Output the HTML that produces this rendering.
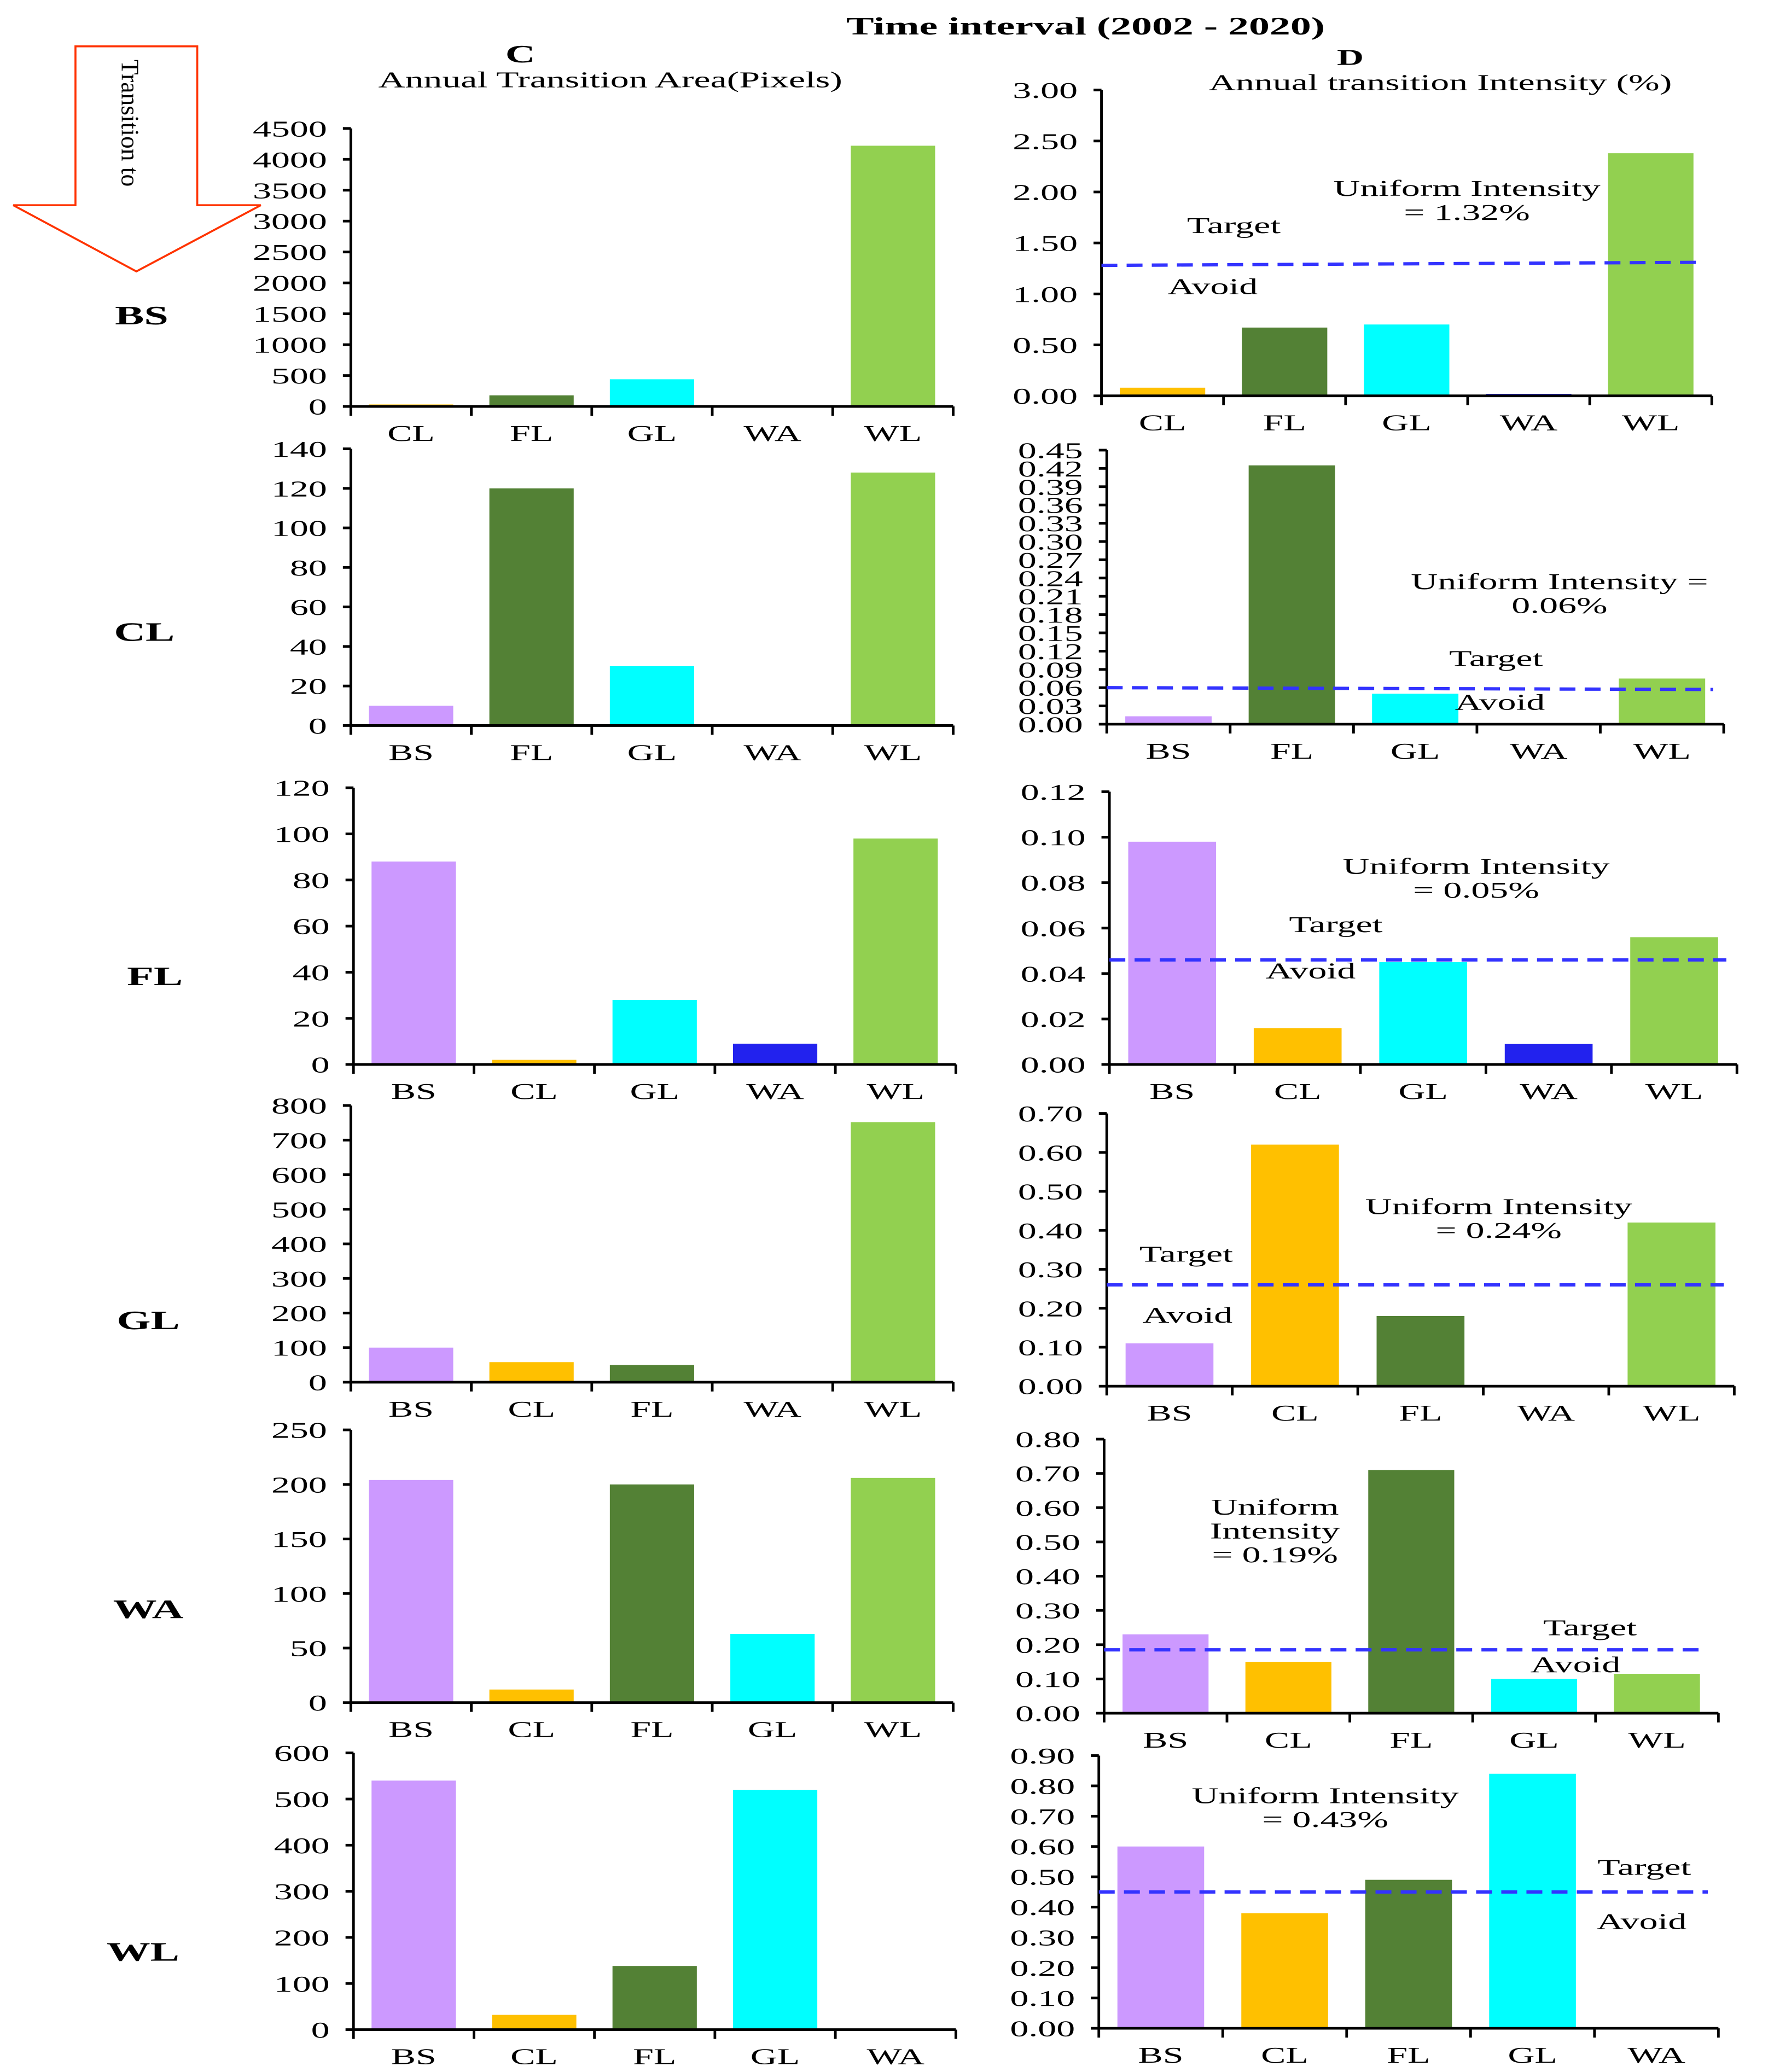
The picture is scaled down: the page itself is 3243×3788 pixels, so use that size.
<!DOCTYPE html>
<html><head><meta charset="utf-8"><style>
html,body{margin:0;padding:0;background:#fff}
svg{display:block}
text{font-family:"Liberation Serif",serif;fill:#000}
</style></head><body>
<svg id="fig" width="3243" height="3788" viewBox="0 0 1340 1565" preserveAspectRatio="none" xmlns="http://www.w3.org/2000/svg">
<text transform="translate(820,26) scale(1.65,1)" font-size="19" font-weight="bold" text-anchor="middle">Time interval (2002 - 2020)</text>
<text transform="translate(393,47) scale(1.65,1)" font-size="19" font-weight="bold" text-anchor="middle">C</text>
<text transform="translate(461,66) scale(1.65,1)" font-size="17" text-anchor="middle">Annual Transition  Area(Pixels)</text>
<text transform="translate(1020,49) scale(1.65,1)" font-size="17" font-weight="bold" text-anchor="middle">D</text>
<text transform="translate(1088,68) scale(1.65,1)" font-size="17" text-anchor="middle">Annual transition  Intensity (%)</text>
<polygon points="57,35 149,35 149,155 197,155 103,205 10,155 57,155" fill="none" stroke="#ff3300" stroke-width="1.5"/>
<text transform="translate(92,45) rotate(90)" font-size="19" textLength="96" lengthAdjust="spacingAndGlyphs">Transition to</text>
<g id="charts"></g>
</svg>
<script>
const colors = {BS:'#cc99ff', CL:'#ffc000', FL:'#538135', GL:'#00ffff', WA:'#2222ee', WL:'#92d050'};
const rowLabels = ['BS','CL','FL','GL','WA','WL'];
const rowCats = [
  ['CL','FL','GL','WA','WL'],
  ['BS','FL','GL','WA','WL'],
  ['BS','CL','GL','WA','WL'],
  ['BS','CL','FL','WA','WL'],
  ['BS','CL','FL','GL','WL'],
  ['BS','CL','FL','GL','WA']
];
const areaValues = [
  [5,180,440,0,4220],
  [10,120,30,0,128],
  [88,2,28,9,98],
  [100,58,50,0,752],
  [204,12,200,63,206],
  [540,32,138,520,0]
];
const areaMax = [4500,140,120,800,250,600];
const areaStep = [500,20,20,100,50,100];
const intensityValues = [
  [0.08,0.67,0.70,0.01,2.38],
  [0.013,0.425,0.05,0,0.075],
  [0.098,0.016,0.045,0.009,0.056],
  [0.11,0.62,0.18,0,0.42],
  [0.23,0.15,0.71,0.10,0.115],
  [0.60,0.38,0.49,0.84,0]
];
const intensityMax = [3.0,0.45,0.12,0.7,0.8,0.9];
const intensityStep = [0.5,0.03,0.02,0.1,0.1,0.1];
const uniformStart = [1.28,0.06,0.046,0.26,0.185,0.45];
const uniformEnd = [1.31,0.057,0.046,0.26,0.185,0.45];
const uniformText = [
  ['Uniform Intensity','= 1.32%'],
  ['Uniform Intensity =','0.06%'],
  ['Uniform Intensity','= 0.05%'],
  ['Uniform Intensity','= 0.24%'],
  ['Uniform','Intensity','= 0.19%'],
  ['Uniform Intensity','= 0.43%']
];

// layout (not data)
const cLayout = [[265,720,97,307],[265,720,339,548],[267,722,595,804],[265,720,835,1044],[265,720,1080,1286],[267,722,1324,1533]];
const dLayout = [[832,1293,68,299],[836,1302,340,547],[838,1312,598,804],[836,1310,841,1047],[834,1298,1087,1294],[830,1298,1326,1532]];
const rowLabelPos = [[107,245],[109,484],[117,744],[112,1004],[112,1222],[108,1481]];
const uniPos = [[1108,148],[1178,445],[1115,660],[1132,917],[963,1144],[1001,1362]];
const targetPos = [[932,176,916,222],[1130,503,1133,536],[1009,704,990,739],[896,953,897,999],[1201,1235,1190,1263],[1242,1416,1240,1457]];
const SX = 1.65;

const NS='http://www.w3.org/2000/svg';
const root=document.getElementById('charts');
function mk(tag,attrs,parent,txt){const e=document.createElementNS(NS,tag);for(const k in attrs)e.setAttribute(k,attrs[k]);if(txt!==undefined)e.textContent=txt;(parent||root).appendChild(e);return e;}
function tx(parent,x,y,size,str,anchor,bold){
  const a={transform:'translate('+x+','+y+') scale('+SX+',1)','font-size':size,'text-anchor':anchor};
  if(bold)a['font-weight']='bold';
  return mk('text',a,parent,str);
}

function drawChart(g,lay,cats,vals,max,step,dec){
  const [x0,x1,yTop,y0]=lay;
  const yS=v=>y0-(v/max)*(y0-yTop);
  const bw=(x1-x0)/cats.length;
  cats.forEach((c,i)=>{
    const h=Math.max(y0-yS(vals[i]),vals[i]>0?1.5:0);
    const b=mk('rect',{x:x0+bw*i+bw*0.15,y:y0-h,width:bw*0.7,height:h,fill:colors[c]},g);
    
    
    const t=tx(g,x0+bw*i+bw/2,y0+26,17,c,'middle');
    
    
    const tk=mk('line',{x1:x0+bw*(i+1),x2:x0+bw*(i+1),y1:y0,y2:y0+7,stroke:'#000','stroke-width':2},g);
    
    
  });
  const n=Math.round(max/step);
  for(let k=0;k<=n;k++){
    const v=k*step,y=yS(v);
    const tk=mk('line',{x1:x0-6,x2:x0,y1:y,y2:y,stroke:'#000','stroke-width':2},g);
    
    
    const t=tx(g,x0-18,y+6,17,v.toFixed(dec),'end');
    
    
  }
  const ya=mk('line',{x1:x0,x2:x0,y1:yTop,y2:y0+1,stroke:'#000','stroke-width':2},g);
  
  
  const xa=mk('line',{x1:x0,x2:x1,y1:y0,y2:y0,stroke:'#000','stroke-width':2},g);
  
  
  const t0=mk('line',{x1:x0,x2:x0,y1:y0,y2:y0+7,stroke:'#000','stroke-width':2},g);
  
  
  return yS;
}

rowLabels.forEach((r,i)=>{
  const rl=tx(root,rowLabelPos[i][0],rowLabelPos[i][1],20,r,'middle',true);
  
  
  const gc=mk('g',{});
  
  
  drawChart(gc,cLayout[i],rowCats[i],areaValues[i],areaMax[i],areaStep[i],0);
  const gd=mk('g',{});
  
  
  const yS=drawChart(gd,dLayout[i],rowCats[i],intensityValues[i],intensityMax[i],intensityStep[i],2);
  const [x0,x1]=dLayout[i];
  const ul=mk('line',{x1:x0,x2:x1-8,y1:yS(uniformStart[i]),y2:yS(uniformEnd[i]),stroke:'#3333ff','stroke-width':2.5,'stroke-dasharray':'12,7'},gd);
  
  
  uniformText[i].forEach((s,k)=>{
    const t=tx(gd,uniPos[i][0],uniPos[i][1]+k*18,17,s,'middle');
    
    
  });
  const tp=targetPos[i];
  const tt=tx(gd,tp[0],tp[1],17,'Target','middle');
  
  
  const ta=tx(gd,tp[2],tp[3],17,'Avoid','middle');
  
  
});
</script>
</body></html>
